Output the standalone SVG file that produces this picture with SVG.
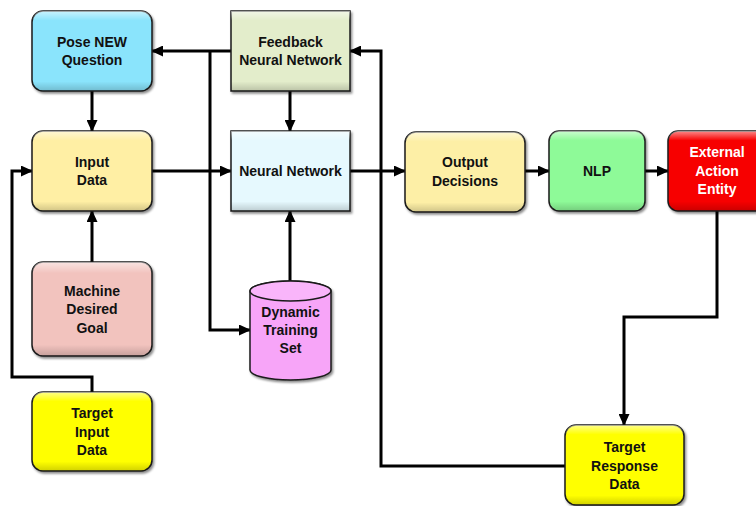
<svg xmlns="http://www.w3.org/2000/svg" width="756" height="506" viewBox="0 0 756 506">
  <style>
    .box { stroke: #1a1a1a; stroke-width: 1.5; filter: url(#shadow); }
    .bevel { fill: url(#bevel); stroke: none; }
    .label { font-family: "Liberation Sans", Arial, sans-serif; font-weight: bold; font-size: 14px; fill: #111; text-anchor: middle; }
    .white { fill: #fff; }
    .wire { fill: none; stroke: #000; stroke-width: 3; stroke-linejoin: miter; }
    .arrow { marker-end: url(#head); }
  </style>
  <defs>
    <marker id="head" markerUnits="userSpaceOnUse" markerWidth="12" markerHeight="11" refX="11" refY="5.5" orient="auto">
      <path d="M0,0 L12,5.5 L0,11 Z" fill="#000"/>
    </marker>
    <filter id="shadow" x="-10%" y="-10%" width="125%" height="130%">
      <feDropShadow dx="1.5" dy="2" stdDeviation="1.2" flood-color="#000" flood-opacity="0.45"/>
    </filter>
    <linearGradient id="bevel" x1="0" y1="0" x2="0" y2="1">
      <stop offset="0" stop-color="#fff" stop-opacity="0.55"/>
      <stop offset="0.12" stop-color="#fff" stop-opacity="0"/>
      <stop offset="0.88" stop-color="#000" stop-opacity="0"/>
      <stop offset="1" stop-color="#000" stop-opacity="0.18"/>
    </linearGradient>
  </defs>

  <!-- connectors (drawn beneath the nodes) -->
  <g id="connectors">
    <path class="wire arrow" d="M231,51 H152"/>
    <path class="wire arrow" d="M210,51 V330 H250"/>
    <path class="wire arrow" d="M290,91 V131"/>
    <path class="wire arrow" d="M92,91 V131"/>
    <path class="wire arrow" d="M152,171 H231"/>
    <path class="wire arrow" d="M92,262 V211"/>
    <path class="wire arrow" d="M92,392 V377 H12 V171 H32"/>
    <path class="wire arrow" d="M290,281 V211"/>
    <path class="wire arrow" d="M350,171 H405"/>
    <path class="wire arrow" d="M525,171 H549"/>
    <path class="wire arrow" d="M645,171 H668"/>
    <path class="wire arrow" d="M717,211 V317 H624 V425"/>
    <path class="wire arrow" d="M565,466 H381 V51 H350"/>
  </g>

  <g id="pose-new-question">
    <rect class="box" x="32" y="11" width="120" height="80" rx="11" fill="#8AE4FC"/>
    <rect class="bevel" x="32" y="11" width="120" height="80" rx="11"/>
    <text class="label" x="92" y="47">Pose NEW</text>
    <text class="label" x="92" y="65">Question</text>
  </g>

  <g id="feedback-neural-network">
    <rect class="box" x="231" y="11" width="119" height="80" fill="#E3EDCB"/>
    <rect class="bevel" x="231" y="11" width="119" height="80"/>
    <text class="label" x="290.5" y="47">Feedback</text>
    <text class="label" x="290.5" y="65">Neural Network</text>
  </g>

  <g id="input-data">
    <rect class="box" x="32" y="131" width="120" height="80" rx="11" fill="#FFEFA4"/>
    <rect class="bevel" x="32" y="131" width="120" height="80" rx="11"/>
    <text class="label" x="92" y="167">Input</text>
    <text class="label" x="92" y="185">Data</text>
  </g>

  <g id="neural-network">
    <rect class="box" x="231" y="131" width="119" height="80" fill="#E6F9FE"/>
    <rect class="bevel" x="231" y="131" width="119" height="80"/>
    <text class="label" x="290.5" y="176">Neural Network</text>
  </g>

  <g id="machine-desired-goal">
    <rect class="box" x="32" y="262" width="120" height="94" rx="11" fill="#F2C3BE"/>
    <rect class="bevel" x="32" y="262" width="120" height="94" rx="11"/>
    <text class="label" x="92" y="296">Machine</text>
    <text class="label" x="92" y="314">Desired</text>
    <text class="label" x="92" y="333">Goal</text>
  </g>

  <g id="target-input-data">
    <rect class="box" x="32" y="392" width="120" height="79" rx="11" fill="#FFFF00"/>
    <rect class="bevel" x="32" y="392" width="120" height="79" rx="11"/>
    <text class="label" x="92" y="418">Target</text>
    <text class="label" x="92" y="437">Input</text>
    <text class="label" x="92" y="455">Data</text>
  </g>

  <g id="dynamic-training-set">
    <path class="box" d="M250,291 A40.5,10 0 0 1 331,291 V370 A40.5,10 0 0 1 250,370 Z" fill="#F7A5F8"/>
    <ellipse cx="290.5" cy="291" rx="40.5" ry="10" fill="#F9B5FA" stroke="#1a1a1a" stroke-width="1.5"/>
    <text class="label" x="290.5" y="317">Dynamic</text>
    <text class="label" x="290.5" y="335">Training</text>
    <text class="label" x="290.5" y="353">Set</text>
  </g>

  <g id="output-decisions">
    <rect class="box" x="405" y="132" width="120" height="80" rx="11" fill="#FDEFA6"/>
    <rect class="bevel" x="405" y="132" width="120" height="80" rx="11"/>
    <text class="label" x="465" y="167">Output</text>
    <text class="label" x="465" y="186">Decisions</text>
  </g>

  <g id="nlp">
    <rect class="box" x="549" y="131" width="96" height="80" rx="10" fill="#8EFA98"/>
    <rect class="bevel" x="549" y="131" width="96" height="80" rx="10"/>
    <text class="label" x="597" y="176">NLP</text>
  </g>

  <g id="external-action-entity">
    <rect class="box" x="668" y="131" width="98" height="80" rx="10" fill="#F70000"/>
    <rect class="bevel" x="668" y="131" width="98" height="80" rx="10"/>
    <text class="label white" x="717" y="157">External</text>
    <text class="label white" x="717" y="176">Action</text>
    <text class="label white" x="717" y="194">Entity</text>
  </g>

  <g id="target-response-data">
    <rect class="box" x="565" y="425" width="119" height="80" rx="11" fill="#FFFF00"/>
    <rect class="bevel" x="565" y="425" width="119" height="80" rx="11"/>
    <text class="label" x="624.5" y="452">Target</text>
    <text class="label" x="624.5" y="471">Response</text>
    <text class="label" x="624.5" y="489">Data</text>
  </g>
</svg>
